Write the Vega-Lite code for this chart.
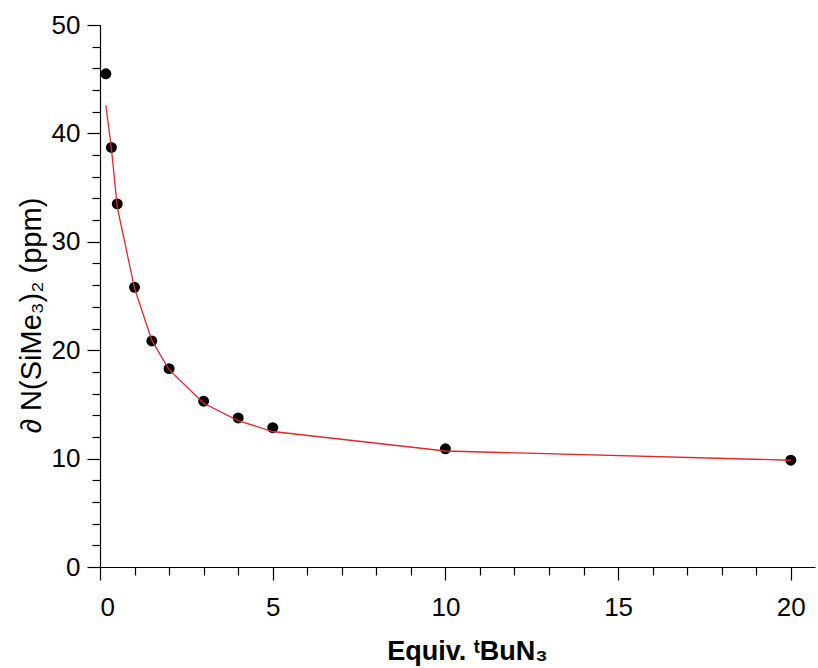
{
  "$schema": "https://vega.github.io/schema/vega-lite/v6.json",
  "width": 715,
  "height": 542,
  "autosize": "none",
  "padding": {"left": 100, "top": 25, "right": 3, "bottom": 101},
  "background": "white",
  "config": {
    "view": {"stroke": null},
    "axis": {
      "grid": false,
      "domainColor": "black",
      "domainWidth": 1.2,
      "tickColor": "black",
      "tickWidth": 1.2,
      "labelColor": "black",
      "titleColor": "black",
      "labelFont": "Liberation Sans",
      "titleFont": "Liberation Sans",
      "labelFontSize": 26,
      "titleFontSize": 27
    }
  },
  "datasets": {
    "points": [
      {"equiv": 0.17, "shift": 45.5},
      {"equiv": 0.33, "shift": 38.7},
      {"equiv": 0.5, "shift": 33.5},
      {"equiv": 1, "shift": 25.8},
      {"equiv": 1.5, "shift": 20.85},
      {"equiv": 2, "shift": 18.3},
      {"equiv": 3, "shift": 15.3},
      {"equiv": 4, "shift": 13.75},
      {"equiv": 5, "shift": 12.85},
      {"equiv": 10, "shift": 10.9},
      {"equiv": 20, "shift": 9.85}
    ],
    "fit": [
      {"equiv": 0.17, "shift": 42.6},
      {"equiv": 0.33, "shift": 38.6},
      {"equiv": 0.5, "shift": 33.2},
      {"equiv": 1, "shift": 25.7},
      {"equiv": 1.5, "shift": 20.9},
      {"equiv": 2, "shift": 18.2},
      {"equiv": 3, "shift": 15.1},
      {"equiv": 4, "shift": 13.5},
      {"equiv": 5, "shift": 12.5},
      {"equiv": 10, "shift": 10.7},
      {"equiv": 20, "shift": 9.85}
    ]
  },
  "layer": [
    {
      "data": {"name": "points"},
      "mark": {"type": "point", "filled": true, "color": "black", "opacity": 1, "size": 120},
      "encoding": {
        "x": {
          "field": "equiv", "type": "quantitative",
          "scale": {"domain": [0, 20.7], "nice": false, "zero": true},
          "axis": {
            "orient": "bottom",
            "values": [1, 2, 3, 4, 6, 7, 8, 9, 11, 12, 13, 14, 16, 17, 18, 19],
            "labels": false, "tickSize": 8, "domain": false, "title": null
          }
        },
        "y": {
          "field": "shift", "type": "quantitative",
          "scale": {"domain": [0, 50], "nice": false},
          "axis": {
            "orient": "left",
            "values": [2, 4, 6, 8, 12, 14, 16, 18, 22, 24, 26, 28, 32, 34, 36, 38, 42, 44, 46, 48],
            "labels": false, "tickSize": 8, "domain": false, "title": null
          }
        }
      }
    },
    {
      "data": {"name": "fit"},
      "mark": {"type": "line", "color": "#e0282c", "strokeWidth": 1.3},
      "encoding": {
        "x": {
          "field": "equiv", "type": "quantitative",
          "axis": {
            "orient": "bottom",
            "values": [0, 5, 10, 15, 20],
            "tickSize": 13,
            "labelPadding": 14,
            "title": "Equiv. ᵗBuN₃",
            "titleFontWeight": "bold",
            "titleX": 367,
            "titleY": 92,
            "titleAlign": "center",
            "titleBaseline": "alphabetic"
          }
        },
        "y": {
          "field": "shift", "type": "quantitative",
          "axis": {
            "orient": "left",
            "values": [0, 10, 20, 30, 40, 50],
            "tickSize": 13,
            "labelPadding": 7,
            "title": "∂ N(SiMe₃)₂ (ppm)",
            "titleFontWeight": "normal",
            "titleFontSize": 29,
            "titleX": -69,
            "titleY": 290,
            "titleAngle": -90,
            "titleAlign": "center",
            "titleBaseline": "middle"
          }
        }
      }
    }
  ],
  "resolve": {"axis": {"x": "independent", "y": "independent"}}
}
